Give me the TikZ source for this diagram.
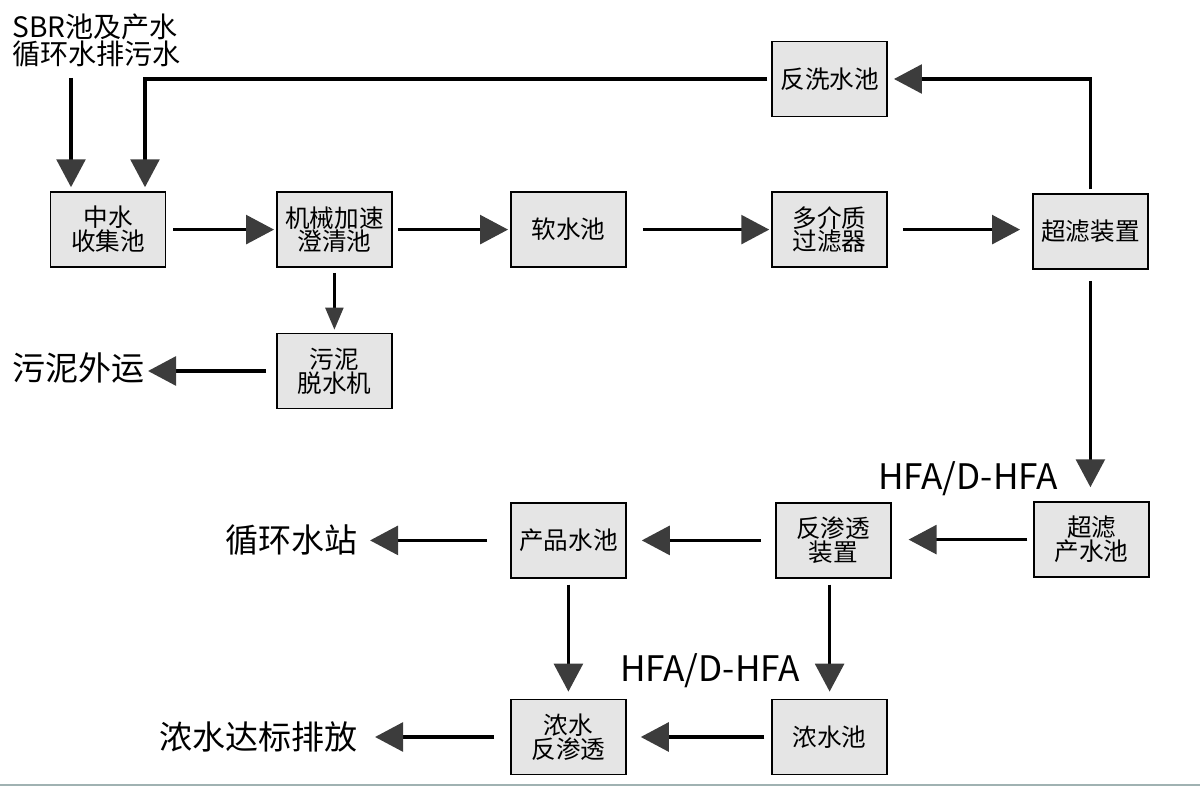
\documentclass[tikz,border=0pt]{standalone}
\usepackage{fontspec}
\setmainfont{Noto Sans CJK SC}
\usepackage{xcolor}
\definecolor{boxgray}{RGB}{229,229,229}
\definecolor{headgray}{RGB}{60,60,60}
\definecolor{rulegray}{RGB}{160,178,178}
\usepackage{tikz}
\usetikzlibrary{arrows.meta}
\tikzstyle{box} = [
    rectangle, text centered, align=center,
    minimum width=2.875cm,
    minimum height=1.875cm,
    line width=1.2pt,
    fill=boxgray,
    draw=black,
    font=\fontsize{17.5}{17}\selectfont,
]
\tikzstyle{outlet} = [
    inner sep=0pt,
    font=\fontsize{23.5}{28}\selectfont,
]
\tikzstyle{dosing} = [
    inner sep=0pt,
    font=\fontsize{25}{30}\selectfont,
]
\tikzstyle{arrow} = [-{Triangle[length=0.7cm,width=0.72cm,color=headgray]}, line width=2.4pt]
\tikzstyle{thin arrow} = [-{Triangle[length=0.55cm,width=0.45cm,color=headgray]}, line width=1.7pt]

\begin{document}
\begin{tikzpicture}
    \useasboundingbox (0,0) rectangle (30,19.65);

    % boxes
    \node (collect) at (2.70, 13.91) [box] {中水\\收集池};
    \node (clarify) at (8.36, 13.91) [box] {机械加速\\澄清池};
    \node (soft) at (14.21, 13.91) [box] {软水池};
    \node (filter) at (20.74, 13.91) [box] {多介质\\过滤器};
    \node (uf) at (27.26, 13.86) [box] {超滤装置};
    \node (wash) at (20.74, 17.675) [box] {反洗水池};
    \node (sludge) at (8.36, 10.375) [box] {污泥\\脱水机};
    \node (ufpool) at (27.29, 6.16) [box] {超滤\\产水池};
    \node (ro) at (20.83, 6.14) [box] {反渗透\\装置};
    \node (product) at (14.21, 6.14) [box] {产品水池};
    \node (brine) at (20.74, 1.225) [box] {浓水池};
    \node (brinero) at (14.21, 1.225) [box] {浓水\\反渗透};

    % texts
    \node (source) at (0.3, 18.64) [anchor=west, align=left, inner sep=0pt,
        font=\fontsize{20}{18}\selectfont] {SBR池及产水\\循环水排污水};
    \node (cake) at (3.625, 10.45) [outlet, anchor=east] {污泥外运};
    \node (cooling) at (8.95, 6.15) [outlet, anchor=east] {循环水站};
    \node (discharge) at (8.95, 1.225) [outlet, anchor=east] {浓水达标排放};
    \node (dose1) at (24.2, 7.675) [dosing] {HFA/D-HFA};
    \node (dose2) at (17.75, 2.875) [dosing] {HFA/D-HFA};
    \coordinate (feed) at (1.775, 17.7);

    % arrows
    \draw [arrow, shorten >=0.1cm] (feed) -- (feed |- collect.north);
    \draw [arrow, shorten <=0.1cm, shorten >=0.1cm] (wash.west) -| ([xshift=0.925cm]collect.north);
    \draw [arrow, shorten <=0.175cm, shorten >=0.05cm] (collect) -- (clarify);
    \draw [arrow, shorten <=0.125cm, shorten >=0.05cm] (clarify) -- (soft);
    \draw [arrow, shorten <=0.4cm, shorten >=0.05cm] (soft) -- (filter);
    \draw [arrow, shorten <=0.375cm, shorten >=0.3cm] (filter.east) -- (filter.east -| uf.west);
    \draw [arrow, shorten <=0.1cm, shorten >=0.15cm] (uf.north) |- (wash.east);
    \draw [thin arrow, shorten <=0.125cm, shorten >=0.075cm] (clarify) -- (sludge);
    \draw [arrow, shorten <=0.25cm, shorten >=0.075cm] (sludge.west) -- (sludge.west -| cake.east);
    \draw [arrow, shorten <=0.275cm, shorten >=0.35cm] (uf.south) -- (uf.south |- ufpool.north);
    \draw [arrow, shorten <=0.15cm, shorten >=0.425cm] (ufpool.west) -- (ufpool.west -| ro.east);
    \draw [arrow, shorten <=0.35cm, shorten >=0.375cm] (ro.west) -- (ro.west -| product.east);
    \draw [arrow, shorten <=0.575cm, shorten >=0.3cm] (product.west) -- (product.west -| cooling.east);
    \draw [arrow, shorten <=0.15cm, shorten >=0.175cm] (product) -- (brinero);
    \draw [arrow, shorten <=0.15cm, shorten >=0.175cm] (brine.north |- ro.south) -- (brine.north);
    \draw [arrow, shorten <=0.175cm, shorten >=0.35cm] (brine) -- (brinero);
    \draw [arrow, shorten <=0.4cm, shorten >=0.425cm] (brinero.west) -- (brinero.west -| discharge.east);

    \draw [rulegray, line width=1.5pt] (0, 0.03) -- (30, 0.03);

\end{tikzpicture}
\end{document}
